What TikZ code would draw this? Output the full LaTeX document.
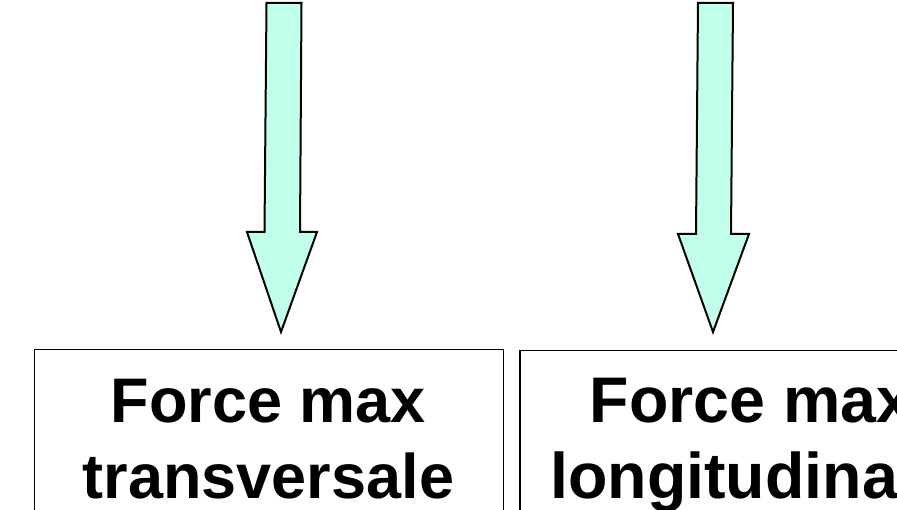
\documentclass[tikz,border=0pt]{standalone}
\usepackage{fontspec}
\setmainfont{Liberation Sans}
\usetikzlibrary{positioning}

\definecolor{arrowcyan}{RGB}{192,255,236}

\begin{document}
\begin{tikzpicture}[x=1pt, y=-1pt] % one unit = one pixel of the picture, y runs downwards
	
	% Frame of the picture
	\useasboundingbox (0,0) rectangle (897,510);
	\clip (0,0) rectangle (897,510);
	
	% Styles
	\tikzset{
		forcebox/.style={draw, line width=1.5pt, minimum height=260pt, inner sep=0pt, anchor=north west},
		forcetext/.style={font=\bfseries\fontsize{63}{76}\selectfont, align=center, anchor=base, inner sep=0pt},
		blockarrow/.style={draw, line width=2pt, fill=arrowcyan, line join=miter}
	}
	
	% Boxes (they run past the right and bottom edges)
	\node[forcebox, minimum width=469pt] (trans) at (33.5,349) {};
	\node[forcebox, minimum width=460pt] (longi) at (519,350) {};
	
	% Labels in the boxes (anchor base = last line)
	\node[forcetext] (transtext) at (268.5,498) {Force max\\transversale};
	\node[forcetext, font=\bfseries\fontsize{64.5}{76}\selectfont] (longitext) at (751,498) {Force max\\longitudinale};
	
	% Tips of the arrows, just above the boxes
	\coordinate (tipL) at (281,332);
	\coordinate (tipR) at (713,332);
	
	% Block arrow towards the first box
	\draw[blockarrow] (266.5,3) -- (301.5,3) -- (300,232) -- (317,232) -- (tipL)
		-- (247,232) -- (264.5,232) -- cycle;
	
	% Block arrow towards the second box
	\draw[blockarrow] (698,3) -- (733,3) -- (731,234) -- (749,234) -- (tipR)
		-- (678,234) -- (696,234) -- cycle;
	
\end{tikzpicture}
\end{document}
